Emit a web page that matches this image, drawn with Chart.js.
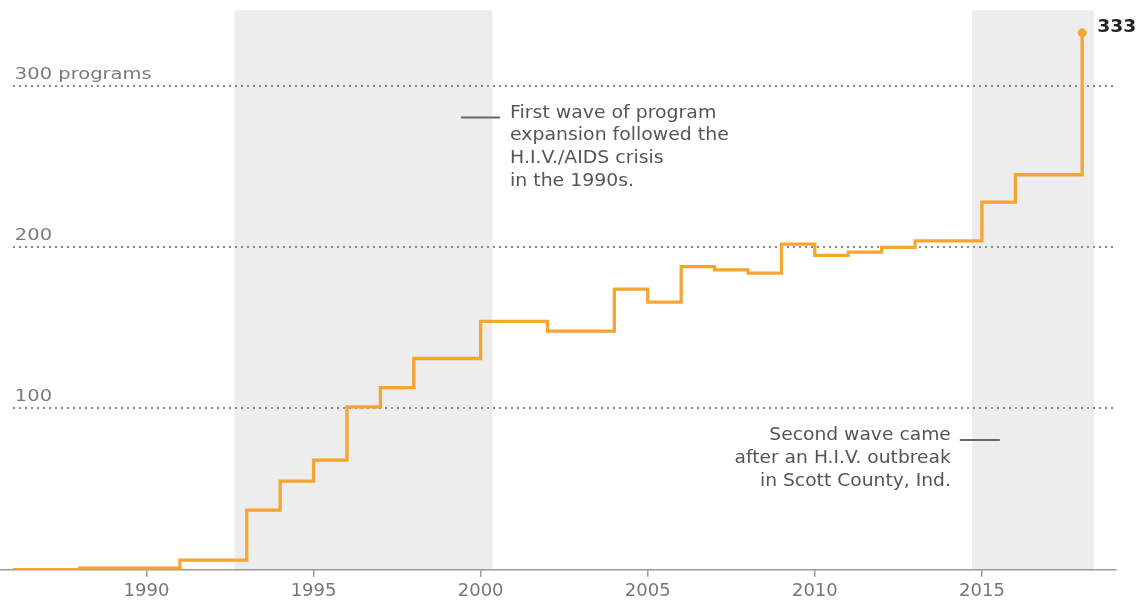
<!DOCTYPE html>
<html>
<head>
<meta charset="utf-8">
<script src="https://cdn.jsdelivr.net/npm/chart.js@4/dist/chart.umd.min.js"></script>
<style>
  html, body { margin: 0; padding: 0; background: #fff; }
  #wrap { width: 1141px; height: 601px; position: relative; }
</style>
</head>
<body>
<div id="wrap"><canvas id="c"></canvas></div>
<script>
// ---- data ----
const years = [1986,1987,1988,1989,1990,1991,1992,1993,1994,1995,1996,1997,1998,1999,2000,2001,2002,2003,2004,2005,2006,2007,2008,2009,2010,2011,2012,2013,2014,2015,2016,2017,2018];
const programs = [0,0,1,1,1,6,6,37,55,68,101,113,131,131,154,154,148,148,174,166,188,186,184,202,195,197,200,204,204,228,245,245,333];
const xTickYears = [1990,1995,2000,2005,2010,2015];
const yGridValues = [100,200,300];
const yGridLabels = ['100','200','300 programs'];
const bandStarts = [1992.63, 2014.7];
const bandEnds = [2000.35, 2018.35];
const note1Lines = ['First wave of program','expansion followed the','H.I.V./AIDS crisis','in the 1990s.'];
const note2Lines = ['Second wave came','after an H.I.V. outbreak','in Scott County, Ind.'];

const ORANGE = '#F6A531';
const FONT = "'DejaVu Sans', 'Liberation Sans', sans-serif";

function stretchedText(ctx, text, x, y, align, sx) {
  ctx.save();
  ctx.translate(x, y);
  ctx.scale(sx, 1);
  ctx.textAlign = align;
  ctx.fillText(text, 0, 0);
  ctx.restore();
}

const decor = {
  id: 'decor',
  beforeDraw(chart) {
    const {ctx, chartArea: a, scales: {x}} = chart;
    ctx.save();
    ctx.fillStyle = '#ededed';
    for (let i = 0; i < bandStarts.length; i++) {
      const x0 = x.getPixelForValue(bandStarts[i]);
      const x1 = x.getPixelForValue(bandEnds[i]);
      ctx.fillRect(x0, a.top, x1 - x0, a.bottom - a.top);
    }
    ctx.restore();
  },
  afterDraw(chart) {
    const {ctx, chartArea: a, scales: {x, y}} = chart;
    ctx.save();
    // axis extension to the left edge
    ctx.strokeStyle = '#999';
    ctx.lineWidth = 1.5;
    ctx.beginPath();
    ctx.moveTo(0, a.bottom);
    ctx.lineTo(a.left, a.bottom);
    ctx.stroke();

    // y grid labels
    ctx.fillStyle = '#7a7a7a';
    ctx.font = '16px ' + FONT;
    ctx.textBaseline = 'alphabetic';
    yGridValues.forEach((v, i) => {
      stretchedText(ctx, yGridLabels[i], a.left + 2, y.getPixelForValue(v) - 7, 'left', 1.22);
    });

    // annotation 1
    ctx.fillStyle = '#555';
    ctx.font = '17px ' + FONT;
    ctx.textBaseline = 'middle';
    const n1x = x.getPixelForValue(2000.88);
    const n1y = y.getPixelForValue(283);
    note1Lines.forEach((t, i) => stretchedText(ctx, t, n1x, n1y + i * 22.6, 'left', 1.11));
    ctx.strokeStyle = '#666';
    ctx.lineWidth = 2;
    ctx.beginPath();
    ctx.moveTo(n1x - 49, n1y + 4);
    ctx.lineTo(n1x - 10, n1y + 4);
    ctx.stroke();

    // annotation 2
    const n2x = x.getPixelForValue(2014.07);
    const n2y = y.getPixelForValue(83.5);
    note2Lines.forEach((t, i) => stretchedText(ctx, t, n2x, n2y + i * 23, 'right', 1.1));
    ctx.beginPath();
    ctx.moveTo(n2x + 9, n2y + 5);
    ctx.lineTo(n2x + 49, n2y + 5);
    ctx.stroke();

    // last value label
    const meta = chart.getDatasetMeta(0);
    const last = meta.data[meta.data.length - 1];
    ctx.fillStyle = '#222';
    ctx.font = 'bold 17px ' + FONT;
    ctx.textBaseline = 'middle';
    stretchedText(ctx, String(programs[programs.length - 1]), last.x + 15, last.y - 5, 'left', 1.1);
    ctx.restore();
  }
};

new Chart(document.getElementById('c'), {
  type: 'line',
  data: {
    datasets: [{
      data: years.map((yr, i) => ({x: yr, y: programs[i]})),
      borderColor: ORANGE,
      backgroundColor: ORANGE,
      borderWidth: 3.3,
      stepped: 'before',
      fill: false,
      pointRadius: c => c.dataIndex === years.length - 1 ? 4.5 : 0,
      pointHoverRadius: 0,
      pointBorderWidth: 0
    }]
  },
  options: {
    responsive: true,
    maintainAspectRatio: false,
    animation: false,
    events: [],
    layout: { padding: { left: 12.8, right: 25.4, top: 10.3, bottom: 0 } },
    plugins: { legend: { display: false }, tooltip: { enabled: false } },
    scales: {
      x: {
        type: 'linear',
        min: 1986,
        max: 2019,
        afterBuildTicks: s => { s.ticks = xTickYears.map(v => ({value: v})); },
        afterFit: s => { s.height = 31.3; },
        border: { display: true, color: '#999', width: 1.5 },
        grid: { display: true, drawOnChartArea: false, drawTicks: true, tickLength: 7, color: '#999', lineWidth: 1.5 },
        ticks: { color: '#777', font: { family: FONT, size: 18 }, padding: 4, maxRotation: 0, callback: v => String(v) }
      },
      y: {
        min: 0,
        max: 347,
        afterBuildTicks: s => { s.ticks = yGridValues.map(v => ({value: v})); },
        afterFit: s => { s.width = 0; },
        border: { display: false, dash: [2, 4] },
        grid: { color: '#888', lineWidth: 2, drawTicks: false },
        ticks: { display: false }
      }
    }
  },
  plugins: [decor]
});
</script>
</body>
</html>
